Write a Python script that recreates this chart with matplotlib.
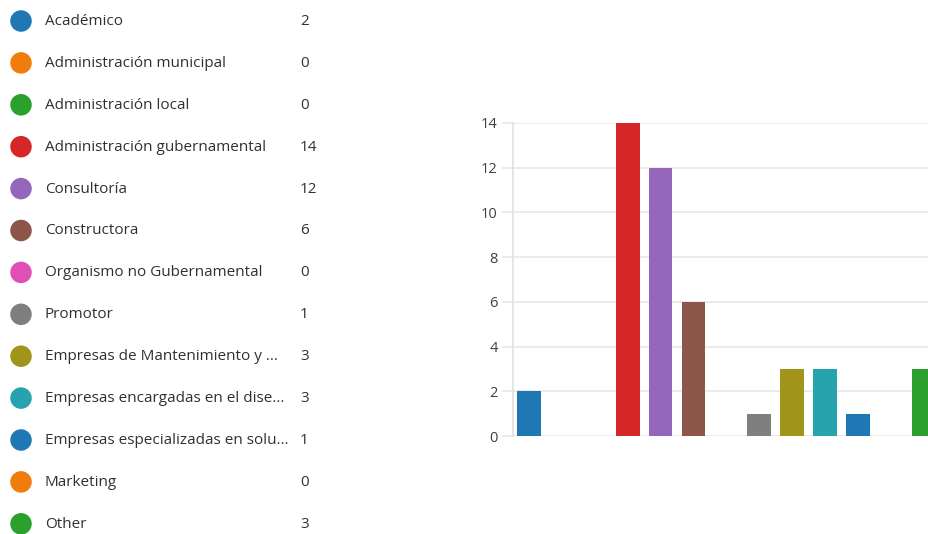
import matplotlib
matplotlib.use("Agg")
import matplotlib.pyplot as plt

categories = [
    "Académico",
    "Administración municipal",
    "Administración local",
    "Administración gubernamental",
    "Consultoría",
    "Constructora",
    "Organismo no Gubernamental",
    "Promotor",
    "Empresas de Mantenimiento y ...",
    "Empresas encargadas en el dise...",
    "Empresas especializadas en solu...",
    "Marketing",
    "Other",
]
counts = [2, 0, 0, 14, 12, 6, 0, 1, 3, 3, 1, 0, 3]
colors = [
    "#1f77b4", "#f07c0c", "#2ca02c", "#d62728", "#9467bd", "#8c564b",
    "#e04fb4", "#7f7f7f", "#a0951a", "#27a3ad", "#1f77b4", "#f07c0c", "#2ca02c",
]
y_ticks = [0, 2, 4, 6, 8, 10, 12, 14]

plt.rcParams["font.family"] = ["Open Sans", "DejaVu Sans"]

W, H = 929, 534
fig = plt.figure(figsize=(W / 100, H / 100), dpi=100)
fig.patch.set_facecolor("white")

# Legend list on the left: dot, label, count
leg = fig.add_axes([0, 0, 1, 1])
leg.set_xlim(0, W)
leg.set_ylim(H, 0)
leg.axis("off")
row0, step = 21, 41.9
for i, (name, n, c) in enumerate(zip(categories, counts, colors)):
    y = row0 + i * step
    leg.scatter([21], [y], s=240, color=c, edgecolors="none")
    leg.text(45, y + 0.5, name, fontsize=11, color="#303030", va="center", ha="left")
    leg.text(300, y + 0.5, str(n), fontsize=11, color="#303030", va="center", ha="left")

# Bar chart on the right (runs past the figure's right edge)
x0_px, slot_px = 512.8, 32.85
y0_px, y14_px = 436, 123
n_slots = len(categories)
ax = fig.add_axes([
    x0_px / W,
    (H - y0_px) / H,
    n_slots * slot_px / W,
    (y0_px - y14_px) / H,
])
ax.bar(range(n_slots), counts, width=0.72, color=colors, zorder=3)
ax.set_xlim(-0.5, n_slots - 0.5)
ax.set_ylim(0, 14)
ax.set_yticks(y_ticks)
ax.set_xticks([])
ax.grid(axis="y", color="#e8e8e8", linewidth=1.2, zorder=0)
for s in ["top", "right", "bottom"]:
    ax.spines[s].set_visible(False)
ax.spines["left"].set_color("#e0e0e0")
ax.spines["left"].set_linewidth(1.2)
ax.tick_params(axis="y", length=8, width=1.2, color="#e8e8e8", pad=3,
               labelsize=10.5, labelcolor="#404040")
ax.set_facecolor("none")

fig.savefig("out.png", dpi=100)
